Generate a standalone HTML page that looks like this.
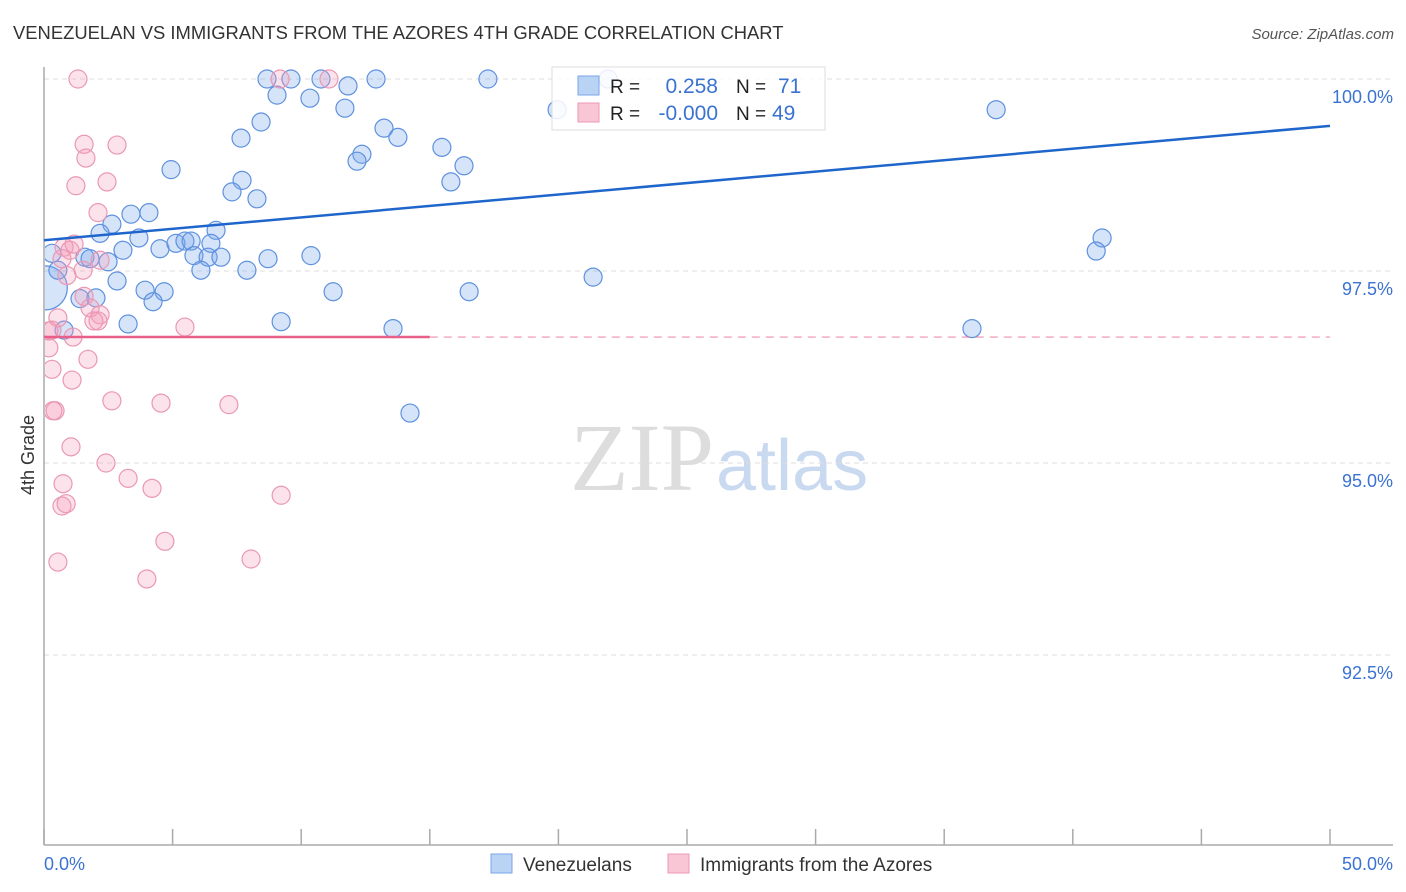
<!DOCTYPE html>
<html><head><meta charset="utf-8"><style>
body{margin:0;background:#fff;font-family:"Liberation Sans",sans-serif;}
svg{display:block}
</style></head><body>
<svg id="chart" width="1406" height="892">
<defs><clipPath id="plotclip"><rect x="45" y="60" width="1360" height="785"/></clipPath></defs>
<text x="13" y="39" font-size="18.4" fill="#333">VENEZUELAN VS IMMIGRANTS FROM THE AZORES 4TH GRADE CORRELATION CHART</text>
<text x="1394" y="39" font-size="15" font-style="italic" fill="#555" text-anchor="end">Source: ZipAtlas.com</text>
<text x="714" y="490" font-size="96" fill="#ddd" text-anchor="end" font-family="Liberation Serif,serif">ZIP</text>
<text x="716" y="490" font-size="72" fill="#c9d9f0">atlas</text>
<text transform="translate(34,455) rotate(-90)" font-size="18" fill="#333" text-anchor="middle">4th Grade</text>
<g id="grid"></g><g id="axes"></g><g id="pts" clip-path="url(#plotclip)"></g><g id="lines"></g>
<g>
<rect x="552" y="67" width="273" height="63" fill="rgba(255,255,255,0.85)" stroke="#ddd"/>
<rect x="578" y="76" width="21" height="19" fill="#b9d3f5" stroke="#7aa6e6"/>
<rect x="578" y="103" width="21" height="19" fill="#f9c6d5" stroke="#ec9ab4"/>
<text x="610" y="93" font-size="19" fill="#222">R =</text>
<text x="718" y="93" font-size="21" fill="#3b73d1" text-anchor="end">0.258</text>
<text x="736" y="93" font-size="19" fill="#222">N =</text>
<text x="778" y="93" font-size="21" fill="#3b73d1">71</text>
<text x="610" y="120" font-size="19" fill="#222">R =</text>
<text x="718" y="120" font-size="21" fill="#3b73d1" text-anchor="end">-0.000</text>
<text x="736" y="120" font-size="19" fill="#222">N =</text>
<text x="772" y="120" font-size="21" fill="#3b73d1">49</text>
</g>
<g>
<rect x="491" y="854" width="21" height="19" fill="#b9d3f5" stroke="#7aa6e6"/>
<text x="523" y="871" font-size="19" fill="#333">Venezuelans</text>
<rect x="668" y="854" width="21" height="19" fill="#f9c6d5" stroke="#ec9ab4"/>
<text x="700" y="871" font-size="19" fill="#333">Immigrants from the Azores</text>
</g>
</svg>
<script>
const yTicks=[100,97.5,95,92.5];
const yTickLabels=["100.0%","97.5%","95.0%","92.5%"];
const xTickLabels=["0.0%","50.0%"];
const blueX=[8.67,9.60,10.77,12.91,17.26,21.93,9.06,10.34,11.82,11.70,8.44,7.66,13.22,13.76,15.47,16.33,12.36,12.17,15.82,7.70,7.31,8.28,4.94,4.08,3.38,2.64,2.18,3.69,6.69,3.07,4.51,5.13,5.48,5.72,6.49,5.83,6.38,6.88,6.10,7.89,8.71,10.38,2.49,1.59,1.79,2.84,3.93,4.67,4.24,1.40,2.02,0.05,0.31,0.54,0.78,3.27,9.22,13.57,14.23,11.24,16.53,21.35,19.95,37.02,41.14,40.91,36.08];
const blueY=[100,100,100,100,100,100,99.79,99.75,99.91,99.62,99.44,99.23,99.36,99.24,99.11,98.87,99.02,98.93,98.66,98.68,98.53,98.44,98.82,98.26,98.24,98.11,97.99,97.93,98.03,97.77,97.79,97.86,97.89,97.89,97.86,97.70,97.68,97.68,97.51,97.51,97.66,97.70,97.62,97.68,97.66,97.37,97.25,97.23,97.10,97.14,97.15,97.28,97.73,97.51,96.73,96.81,96.84,96.75,95.65,97.23,97.23,97.42,99.60,99.60,97.93,97.76,96.75];
const pinkX=[1.32,9.18,11.08,1.56,1.63,2.84,1.24,2.45,2.10,0.78,1.01,1.17,0.70,2.18,1.52,0.89,1.56,1.79,2.18,2.10,1.94,0.54,0.31,1.13,0.19,0.31,1.71,1.09,0.43,0.35,2.64,4.55,7.19,1.05,2.41,3.27,4.20,0.74,0.70,0.86,4.70,9.22,0.54,4.00,8.05,5.48,0.19];
const pinkY=[100,100,100,99.15,98.97,99.14,98.61,98.66,98.26,97.81,97.77,97.85,97.66,97.64,97.51,97.44,97.17,97.02,96.93,96.85,96.85,96.89,96.73,96.64,96.50,96.22,96.35,96.08,95.68,95.68,95.81,95.78,95.76,95.21,95.00,94.80,94.67,94.73,94.44,94.47,93.98,94.58,93.71,93.49,93.75,96.77,96.72];
const blueTrend=[97.90,99.39];
const pinkTrend=[96.64,96.64];
const pinkSolidEnd=15;
const NS="http://www.w3.org/2000/svg";
const X=v=>44+v/50*1286;
const Y=v=>79+(100-v)/2.5*192;
function mk(tag,attrs,parent){const e=document.createElementNS(NS,tag);for(const k in attrs)e.setAttribute(k,attrs[k]);document.getElementById(parent).appendChild(e);return e;}
yTicks.forEach((t,i)=>{
 const l=mk('line',{x1:44,x2:1393,y1:Y(t),y2:Y(t),stroke:'#ddd','stroke-dasharray':'5,4'},'grid');
 
 
 const tx=mk('text',{x:1393,y:Y(t)+24,'font-size':18,fill:'#3b73d1','text-anchor':'end'},'grid');
 tx.textContent=yTickLabels[i];
 
 
});
let ax=mk('line',{x1:44,x2:44,y1:67,y2:845,stroke:'#aaa','stroke-width':1.5},'axes');


ax=mk('line',{x1:44,x2:1393,y1:845,y2:845,stroke:'#aaa','stroke-width':1.5},'axes');


for(let i=0;i<=10;i++){
 const t=mk('line',{x1:X(i*5),x2:X(i*5),y1:829,y2:845,stroke:'#aaa','stroke-width':1.5},'axes');
 
 
}
[[0,44,'start'],[50,1393,'end']].forEach((d,i)=>{
 const t=mk('text',{x:d[1],y:870,'font-size':18,fill:'#3b73d1','text-anchor':d[2]},'axes');
 t.textContent=xTickLabels[i];
 
 
});
blueX.forEach((v,i)=>{
 const big=(i===51);
 const c=mk('circle',{cx:X(v),cy:Y(blueY[i]),r:big?22:9,fill:'rgba(120,165,235,0.3)',stroke:'#5e91de','stroke-width':1.2},'pts');
 
 
});
pinkX.forEach((v,i)=>{
 const c=mk('circle',{cx:X(v),cy:Y(pinkY[i]),r:9,fill:'rgba(245,160,190,0.3)',stroke:'#ea98b3','stroke-width':1.2},'pts');
 
 
});
let tl=mk('line',{x1:X(0),x2:X(50),y1:Y(blueTrend[0]),y2:Y(blueTrend[1]),stroke:'#1f66cc','stroke-width':2.5},'lines');


const py=v=>pinkTrend[0]+(pinkTrend[1]-pinkTrend[0])*v/50;
tl=mk('line',{x1:X(0),x2:X(pinkSolidEnd),y1:Y(py(0)),y2:Y(py(pinkSolidEnd)),stroke:'#e8608a','stroke-width':2.5},'lines');


tl=mk('line',{x1:X(pinkSolidEnd),x2:X(50),y1:Y(py(pinkSolidEnd)),y2:Y(py(50)),stroke:'#e8608a','stroke-width':1.2,'stroke-dasharray':'8,6','opacity':0.7},'lines');


</script>
</body></html>
